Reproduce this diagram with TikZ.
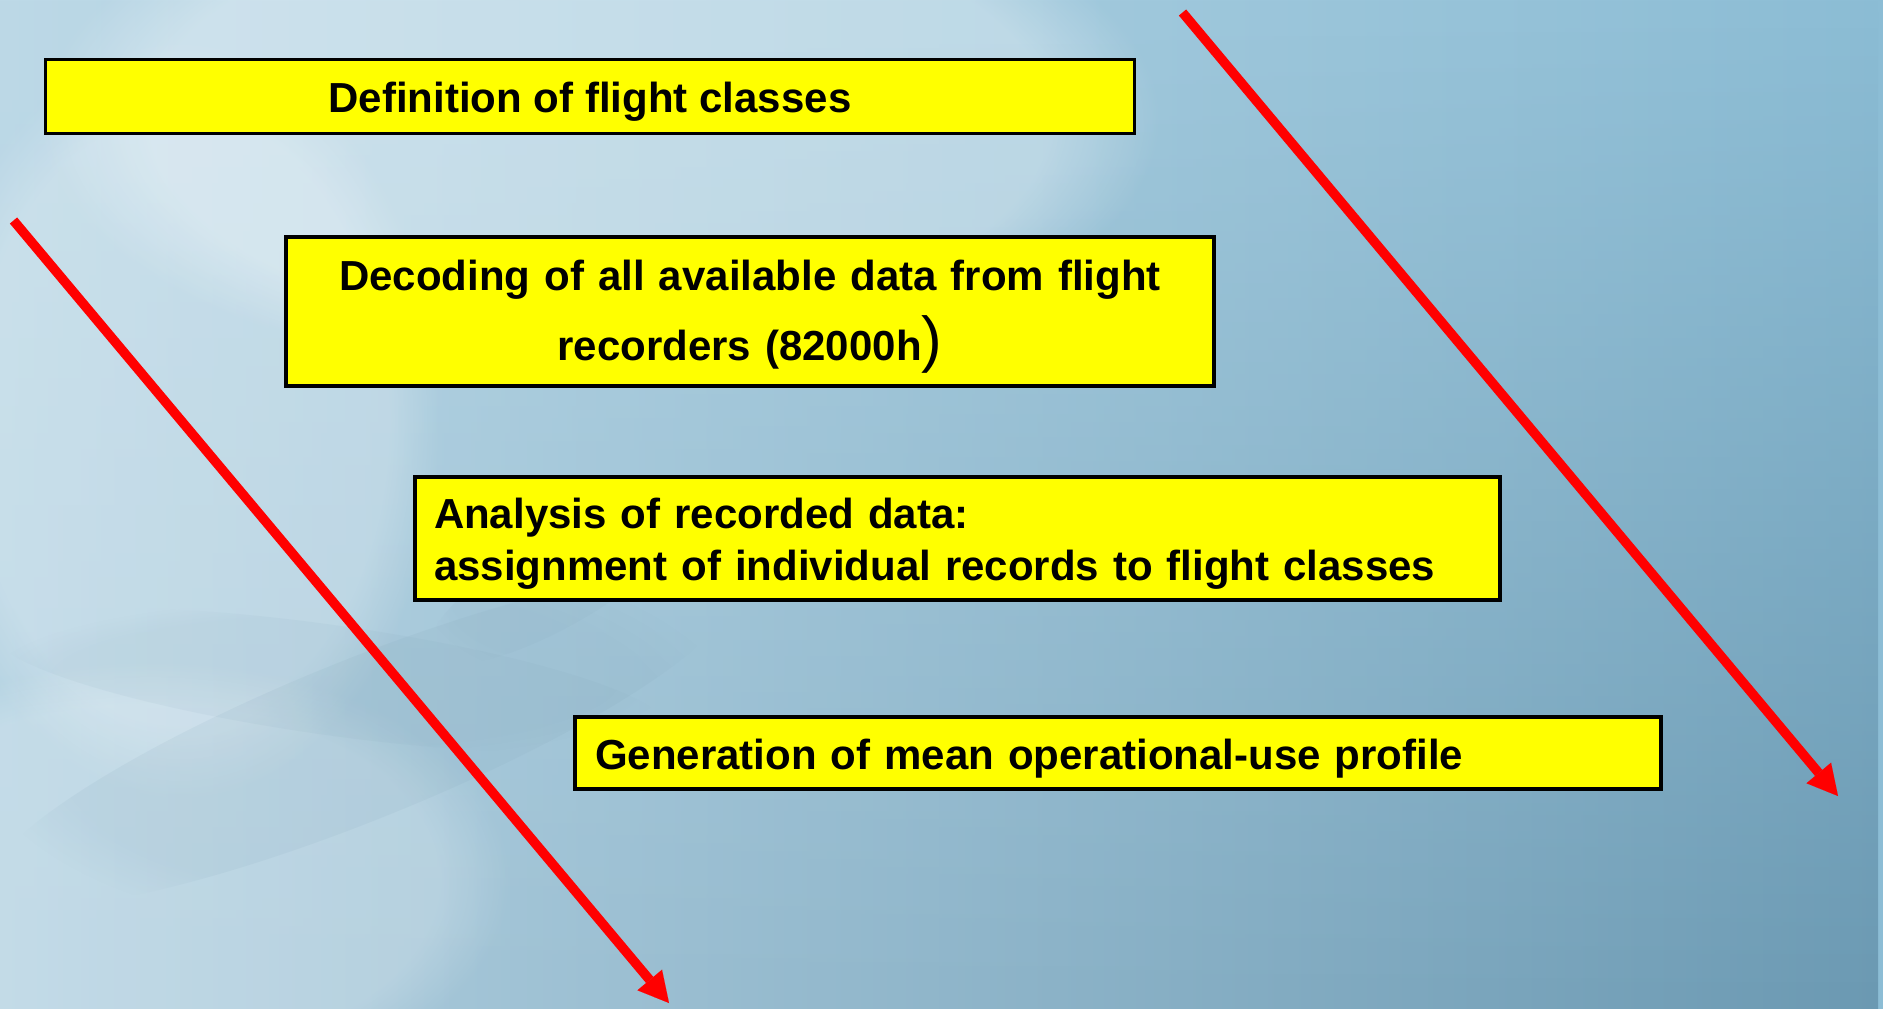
\documentclass[tikz,border=0pt]{standalone}
\usepackage{fontspec}
\setmainfont{Liberation Sans}
\usetikzlibrary{arrows.meta,fadings}

\definecolor{skyTL}{HTML}{BDD9E7}
\definecolor{skyTR}{HTML}{8CBDD5}
\definecolor{skyBL}{HTML}{B4D2E2}
\definecolor{skyBR}{HTML}{6B99B2}
\definecolor{haze}{HTML}{7C9FB2}
\definecolor{boxfill}{HTML}{FFFF00}
\definecolor{flowred}{HTML}{FF0000}

\tikzset{
  stepbox/.style={draw=black, fill=boxfill, line width=3.5pt, inner ysep=0pt,
    font=\bfseries\fontsize{42}{52}\selectfont},
  flowarrow/.style={draw=flowred, line width=9.5pt,
    -{Triangle[length=30pt,width=32pt,line width=0.01pt]}},
  cloud/.style={fill=white, path fading=circle with fuzzy edge 20 percent},
  shadow/.style={fill=haze, path fading=circle with fuzzy edge 20 percent}
}

\begin{document}
\begin{tikzpicture}[x=1pt,y=-1pt]
% sky background
\useasboundingbox (0,0) rectangle (1883,1009);
\shade[left color=skyTL, right color=skyTR] (0,0) rectangle (1883,1009);
\shade[left color=skyBL, right color=skyBR, path fading=north] (0,0) rectangle (1883,1009);
% soft cloud light
\fill[cloud, opacity=0.30] (600,120) ellipse (560 and 260);
\fill[cloud, opacity=0.22] (180,420) ellipse (260 and 380);
\fill[cloud, opacity=0.20] (150,880) ellipse (360 and 220);
% faint aircraft shape
\fill[shadow, opacity=0.10, rotate around={22:(360,740)}] (360,740) ellipse (400 and 80);
\fill[shadow, opacity=0.08, rotate around={-8:(330,680)}] (330,680) ellipse (340 and 55);
\fill[shadow, opacity=0.08, rotate around={30:(560,580)}] (560,580) ellipse (150 and 45);

% process steps
\node[stepbox, minimum width=1089pt, minimum height=74pt, align=center,
  text height=32pt, text depth=0pt]
  (def) at (590,96.5) {Definition of flight classes};
\node[stepbox, minimum height=149pt, inner xsep=10pt, text width=908pt, align=center,
  font=\bfseries\fontsize{42}{70}\selectfont, text height=32pt, text depth=74pt]
  (dec) at (750,311.5) {Decoding of all available data from flight\\
  recorders (82000h{\mdseries\fontsize{62}{70}\selectfont)}};
\node[stepbox, minimum height=123pt, inner xsep=19pt, text width=1047pt, align=left,
  text height=32pt, text depth=52pt]
  (ana) at (957.5,538.5) {Analysis of recorded data:\\
  assignment of individual records to flight classes};
\node[stepbox, minimum height=72pt, inner xsep=20pt, text width=1046pt, align=left,
  text height=32pt, text depth=0pt]
  (gen) at (1118,753) {Generation of mean operational-use profile};

% flow arrows
\coordinate (leftstart) at (13.5,220.5);
\coordinate (leftend) at (669,1003);
\coordinate (rightstart) at (1182.5,12.5);
\coordinate (rightend) at (1838,796);
\draw[flowarrow] (leftstart) -- (leftend);
\draw[flowarrow] (rightstart) -- (rightend);
\end{tikzpicture}
\end{document}
